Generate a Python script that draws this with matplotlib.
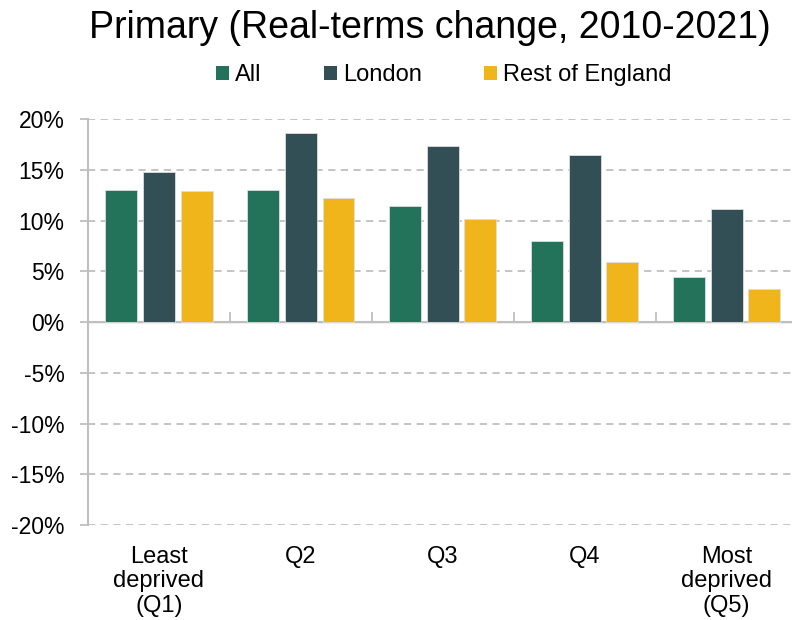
import numpy as np
import matplotlib.pyplot as plt
from matplotlib.patches import Patch

plt.rcParams['font.family'] = ['Liberation Sans', 'DejaVu Sans']

categories = ['Least\ndeprived\n(Q1)', 'Q2', 'Q3', 'Q4', 'Most\ndeprived\n(Q5)']
series_names = ['All', 'London', 'Rest of England']
all_vals = [13.0, 13.0, 11.4, 8.0, 4.4]
london_vals = [14.75, 18.65, 17.3, 16.45, 11.1]
rest_vals = [12.9, 12.2, 10.1, 5.9, 3.25]
colors = ['#23735A', '#324F55', '#F0B51A']
yticks = [-20, -15, -10, -5, 0, 5, 10, 15, 20]

fig = plt.figure(figsize=(7.92, 6.2), dpi=100)
ax = fig.add_axes([88/792, 1-525/620, 1-88/792, (525-119)/620])

x = np.arange(len(categories))
w = 0.225
step = 0.265
for i, (vals, c) in enumerate(zip([all_vals, london_vals, rest_vals], colors)):
    ax.bar(x + (i-1)*step, vals, width=w, color=c, edgecolor='#dddddd', linewidth=0.6, zorder=3)

ax.set_xlim(-0.5, 4.46)
ax.set_ylim(-20, 20)
ax.set_yticks(yticks)
ax.set_yticklabels([f'{t}%' for t in yticks])
for t in yticks:
    if t != 0:
        ax.axhline(t, color='#BFBFBF', linestyle=(0, (4, 3)), linewidth=1.3, zorder=1)
ax.axhline(0, color='#BFBFBF', linewidth=1.5, zorder=2)

for s in ['top', 'right', 'bottom']:
    ax.spines[s].set_visible(False)
ax.spines['left'].set_color('#BFBFBF')
ax.spines['left'].set_linewidth(1.5)
ax.tick_params(axis='y', length=6, width=1.3, color='#BFBFBF', labelsize=16.5, pad=11)

ax.set_xticks(x)
ax.set_xticklabels(categories, linespacing=1.15)
ax.tick_params(axis='x', length=0, labelsize=17, pad=15)

sec = ax.secondary_xaxis(0.5)
sec.set_xticks(np.arange(0.5, 4.6, 1.0))
sec.set_xticklabels([])
sec.spines['bottom'].set_visible(False)
sec.tick_params(axis='x', direction='out', length=7, width=1.3, color='#BFBFBF')

fig.text(430/792, 1-28/620, 'Primary (Real-terms change, 2010-2021)', ha='center', va='center', fontsize=27)

handles = [Patch(facecolor=c, edgecolor='none') for c in colors]
fig.legend(handles, series_names, loc='center', bbox_to_anchor=(444/792, 1-75/620), ncol=3,
           frameon=False, fontsize=17, handlelength=0.55, handleheight=0.55, handletextpad=0.25,
           columnspacing=2.65)

fig.savefig('out.png', dpi=100)
